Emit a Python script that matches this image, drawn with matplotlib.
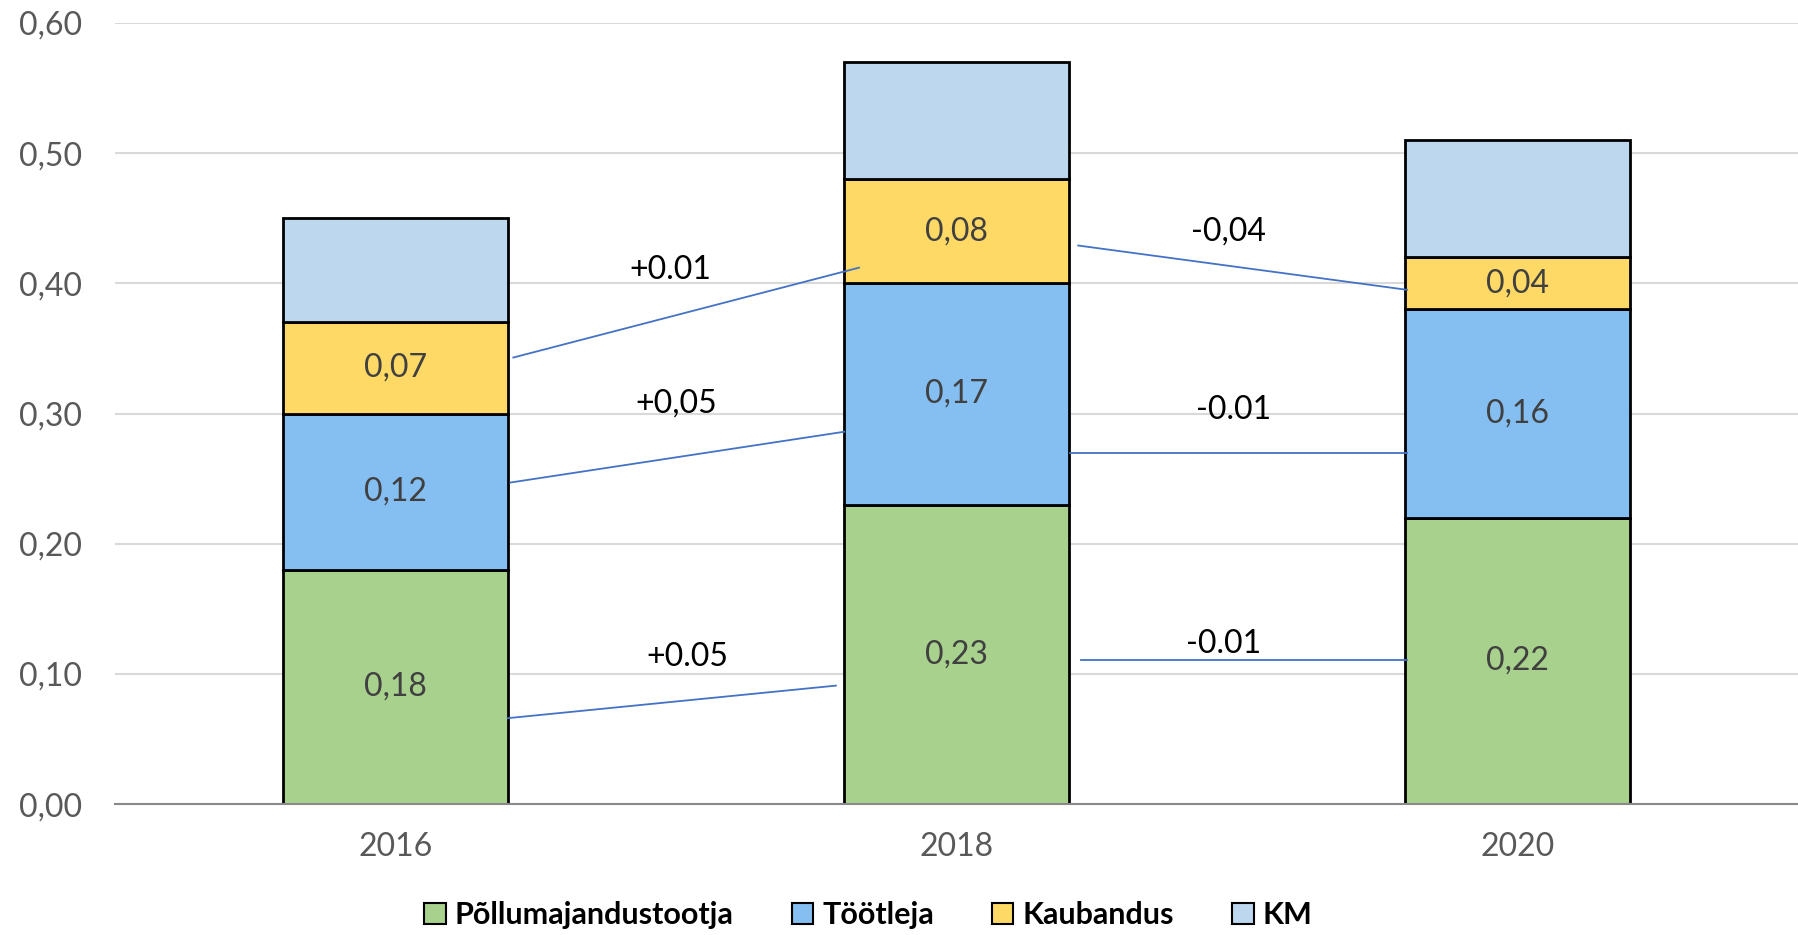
import numpy as np
import matplotlib.pyplot as plt
from matplotlib.patches import Patch

years = ["2016", "2018", "2020"]
series = ["Põllumajandustootja", "Töötleja", "Kaubandus", "KM"]
pollumajandus = [0.18, 0.23, 0.22]
tootleja = [0.12, 0.17, 0.16]
kaubandus = [0.07, 0.08, 0.04]
km = [0.08, 0.09, 0.09]
colors = ["#A9D18E", "#85BFF1", "#FFD966", "#BDD7EE"]

# change notes drawn between bars (x0, y0, x1, y1, text x, text y, text)
notes = [
    (0.20, 0.066, 0.785, 0.091, 0.52, 0.113, "+0.05"),
    (0.205, 0.247, 0.80, 0.286, 0.50, 0.308, "+0,05"),
    (0.21, 0.343, 0.826, 0.412, 0.49, 0.410, "+0.01"),
    (1.217, 0.429, 1.803, 0.395, 1.484, 0.440, "-0,04"),
    (1.202, 0.270, 1.803, 0.270, 1.493, 0.303, "-0.01"),
    (1.221, 0.111, 1.803, 0.111, 1.476, 0.123, "-0.01"),
]

plt.rcParams['font.family'] = ['Lato', 'DejaVu Sans']

fig = plt.figure(figsize=(17.98, 9.35), dpi=100)
ax = fig.add_axes([0.064, 0.14, 0.936, 0.8355])

x = np.arange(len(years))
width = 0.4
bottom = np.zeros(len(years))
for vals, col, name, show in zip([pollumajandus, tootleja, kaubandus, km], colors, series,
                                 [True, True, True, False]):
    ax.bar(x, vals, width, bottom=bottom, color=col, edgecolor="black", linewidth=2, zorder=3)
    if show:
        for xi, b, v in zip(x, bottom, vals):
            ax.text(xi, b + v / 2, f"{v:.2f}".replace(".", ","), ha="center", va="center",
                    fontsize=23, color="#404040", zorder=4)
    bottom += np.array(vals)

for x0, y0, x1, y1, tx, ty, txt in notes:
    ax.plot([x0, x1], [y0, y1], color="#4472C4", linewidth=1.3, zorder=4)
    ax.text(tx, ty, txt, ha="center", va="center", fontsize=23, color="black", zorder=4)

ax.set_xlim(-0.5, 2.5)
ax.set_ylim(0, 0.6)
ax.set_yticks(np.arange(0, 0.61, 0.1))
ax.set_yticklabels([f"{v:.2f}".replace(".", ",") for v in np.arange(0, 0.61, 0.1)])
ax.set_xticks(x)
ax.set_xticklabels(years)
ax.tick_params(axis="both", length=0, labelsize=23, labelcolor="#595959")
ax.tick_params(axis="y", pad=24)
ax.tick_params(axis="x", pad=20)
ax.grid(axis="y", color="#D9D9D9", linewidth=1.5, zorder=0)
for s in ["top", "right", "left"]:
    ax.spines[s].set_visible(False)
ax.spines["bottom"].set_color("#898989")
ax.spines["bottom"].set_linewidth(1.5)
ax.spines["bottom"].set_zorder(5)

handles = [Patch(facecolor=c, edgecolor="black", linewidth=1.5) for c in colors]
fig.legend(handles, series, loc="center", bbox_to_anchor=(0.483, 0.0214), ncol=4,
           frameon=False, prop={"weight": "bold", "size": 22},
           handlelength=0.7, handleheight=0.7, handletextpad=0.3, columnspacing=1.9)

fig.savefig("out.png", dpi=100, facecolor="w")
